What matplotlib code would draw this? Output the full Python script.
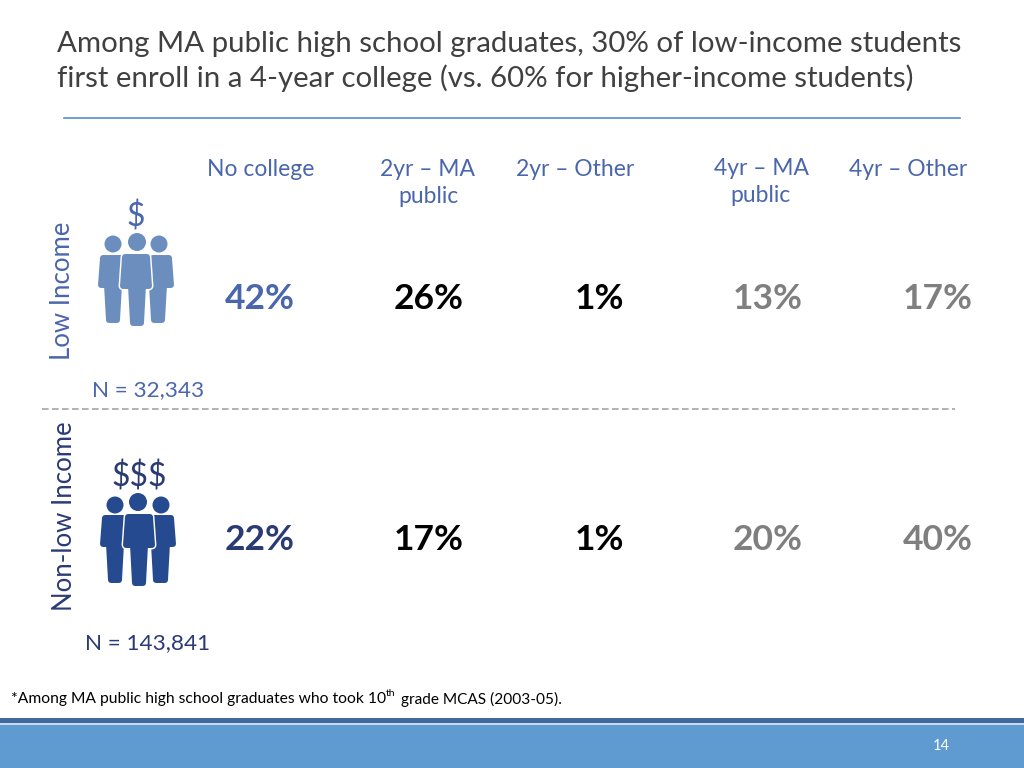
import matplotlib
matplotlib.use("Agg")
import matplotlib.pyplot as plt
from matplotlib.patches import Polygon, Circle, Rectangle

plt.rcParams['font.family'] = ['Lato', 'DejaVu Sans']

title_lines = ["Among MA public high school graduates, 30% of low-income students",
               "first enroll in a 4-year college (vs. 60% for higher-income students)"]
categories = ["No college", "2yr – MA\npublic", "2yr – Other", "4yr – MA\npublic", "4yr – Other"]
low_income = [42, 26, 1, 13, 17]
non_low_income = [22, 17, 1, 20, 40]
n_labels = ["N = 32,343", "N = 143,841"]
group_labels = ["Low Income", "Non-low Income"]
page_number = "14"

BLUE = "#4a66ac"; NAVY = "#2a3a74"; GRAY = "#7f7f7f"
ICON1 = "#6c8ebf"; ICON2 = "#254a8f"

fig = plt.figure(figsize=(10.24, 7.68), dpi=100)
ax = fig.add_axes([0, 0, 1, 1])
ax.set_xlim(0, 1024); ax.set_ylim(768, 0); ax.axis("off")

# title
ax.text(57, 44, title_lines[0], fontsize=21.2, color="#404040", va="center", ha="left")
ax.text(57, 78.5, title_lines[1], fontsize=21.2, color="#404040", va="center", ha="left")
ax.plot([64, 960], [118, 118], color="#4f8fc8", lw=1.2)

# column headers
cat_x = [261, 428, 575, 761, 908]
cat_y = [170, 183, 170, 182, 170]
for x, y, c in zip(cat_x, cat_y, categories):
    ax.text(x, y, c, fontsize=16.5, color=BLUE, ha="center", va="center", linespacing=1.32)

# percentage rows
pct_x = [260, 429, 599, 768, 938]
low_colors = [BLUE, "black", "black", GRAY, GRAY]
high_colors = [NAVY, "black", "black", GRAY, GRAY]
for x, v, c in zip(pct_x, low_income, low_colors):
    ax.text(x, 299, f"{v}%", fontsize=25.5, fontweight="bold", color=c, ha="center", va="center")
for x, v, c in zip(pct_x, non_low_income, high_colors):
    ax.text(x, 540, f"{v}%", fontsize=25.5, fontweight="bold", color=c, ha="center", va="center")

# group labels
ax.text(63, 291, group_labels[0], fontsize=18.5, color=BLUE, rotation=90, ha="center", va="center")
ax.text(65, 516, group_labels[1], fontsize=18.5, color=NAVY, rotation=90, ha="center", va="center")
ax.text(148, 390, n_labels[0], fontsize=16.2, color=BLUE, ha="center", va="center")
ax.text(148, 643, n_labels[1], fontsize=16.2, color=NAVY, ha="center", va="center")

# dashed divider
ax.plot([42, 955], [409, 409], color="#a6a6a6", lw=1.2, dashes=(4, 2))


def person(cx, head_y, r, x0, x1, top, arm, lx0, lx1, bottom, color, halo=False):
    i = 3  # inset, restored by a round-joined edge so the corners look soft
    pts = [(x0 + i + 2, top + i), (x1 - i - 2, top + i), (x1 - i, arm - i), (lx1 - i, arm - i),
           (lx1 - i - 2, bottom - i), (lx0 + i + 2, bottom - i), (lx0 + i, arm - i), (x0 + i, arm - i)]
    if halo:
        ax.add_patch(Polygon(pts, closed=True, fc="white", ec="white", lw=6.4, joinstyle="round", zorder=3))
    z = 4 if halo else 2
    ax.add_patch(Polygon(pts, closed=True, fc=color, ec=color, lw=4.3, joinstyle="round", zorder=z))
    ax.add_patch(Circle((cx, head_y), r, fc=color, ec="none", zorder=z))


person(113, 244, 8.5, 98, 126, 255, 288, 104, 122, 323, ICON1)
person(159, 244, 8.5, 148, 174, 255, 288, 149, 167, 323, ICON1)
person(137, 242, 9, 120, 152, 254, 289, 128, 146, 326, ICON1, halo=True)
ax.text(136, 217, "$", fontsize=23, color=BLUE, ha="center", va="center")

person(115, 505, 8.5, 100, 128, 515, 547, 106, 124, 583, ICON2)
person(161, 505, 8.5, 150, 176, 515, 547, 151, 170, 583, ICON2)
person(138, 502, 9, 123, 155, 514, 548, 130, 148, 586, ICON2, halo=True)
ax.text(139, 477, "$$$", fontsize=23, color=NAVY, ha="center", va="center")

# footnote
ax.text(11, 699, "*Among MA public high school graduates who took 10", fontsize=11.25, color="black", va="center")
ax.text(385.5, 694, "th", fontsize=7.5, color="black", va="center")
ax.text(401, 699, "grade MCAS (2003-05).", fontsize=11.1, color="black", va="center")

# footer band
ax.add_patch(Rectangle((0, 718), 1024, 5, fc="#41699c", ec="none"))
ax.add_patch(Rectangle((0, 723), 1024, 2, fc="#c5dcf0", ec="none"))
ax.add_patch(Rectangle((0, 725), 1024, 43, fc="#5f9bd0", ec="none"))
ax.text(941, 746, page_number, fontsize=10.5, color="white", ha="center", va="center")

fig.savefig("out.png", dpi=100)
